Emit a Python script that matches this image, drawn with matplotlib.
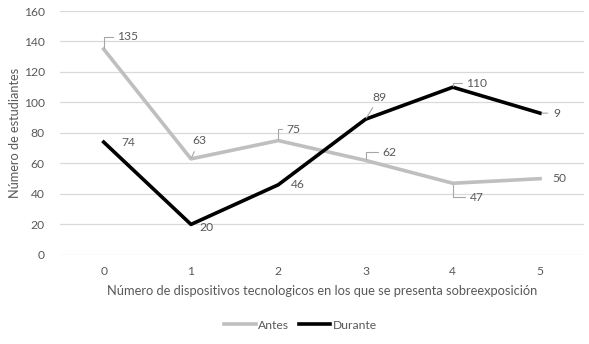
import matplotlib
matplotlib.use("Agg")
import matplotlib.pyplot as plt

# data
dispositivos = [0, 1, 2, 3, 4, 5]
antes = [135, 63, 75, 62, 47, 50]
durante = [74, 20, 46, 89, 110, 93]
antes_labels = ["135", "63", "75", "62", "47", "50"]
durante_labels = ["74", "20", "46", "89", "110", "9"]

GRAY_LINE = "#bfbfbf"
TEXT = "#595959"
GRID = "#d9d9d9"
LEADER = "#a6a6a6"

plt.rcParams["font.family"] = ["Lato", "DejaVu Sans"]

fig = plt.figure(figsize=(5.89, 3.44), dpi=100)
ax = fig.add_axes([0.102, 0.259, 0.889, 0.709])

ax.plot(dispositivos, antes, color=GRAY_LINE, lw=2.6, label="Antes", solid_joinstyle="round")
ax.plot(dispositivos, durante, color="black", lw=2.6, label="Durante", solid_joinstyle="round")

# label offsets in points (dx, dy) and leader style (None, "straight", "elbow")
antes_off = [(17, 9), (6, 13), (11, 8), (17, 6), (17, -10), (14, 0)]
antes_lead = ["elbow", "straight", "elbow", "elbow", "elbow", None]
durante_off = [(18, 0), (11, -2), (14, 0), (10, 16), (17, 3), (12, 0)]
durante_lead = [None, None, None, "straight", "elbow", "straight"]


def put_labels(xs, ys, labels, offs, leads):
    for x, y, lab, (dx, dy), lead in zip(xs, ys, labels, offs, leads):
        arrow = None
        if lead == "straight":
            arrow = dict(arrowstyle="-", color=LEADER, lw=0.8, shrinkA=2, shrinkB=1)
        elif lead == "elbow":
            arrow = dict(arrowstyle="-", color=LEADER, lw=0.8, shrinkA=1, shrinkB=1,
                         connectionstyle="angle,angleA=0,angleB=90,rad=0")
        ax.annotate(lab, (x, y), xytext=(dx, dy), textcoords="offset points",
                    ha="center", va="center", fontsize=8.7, color=TEXT,
                    arrowprops=arrow)


put_labels(dispositivos, antes, antes_labels, antes_off, antes_lead)
put_labels(dispositivos, durante, durante_labels, durante_off, durante_lead)

ax.set_xlim(-0.5, 5.5)
ax.set_ylim(0, 160)
ax.set_yticks(range(0, 161, 20))
ax.set_xticks(dispositivos)
ax.grid(axis="y", color=GRID, lw=0.9)
ax.set_axisbelow(True)
for side in ax.spines.values():
    side.set_visible(False)
ax.tick_params(length=0, colors=TEXT, labelsize=8.7, pad=8)
ax.tick_params(axis="y", pad=11)

ax.set_xlabel("Número de dispositivos tecnologicos en los que se presenta sobreexposición",
              fontsize=9.3, color=TEXT, labelpad=6)
ax.set_ylabel("Número de estudiantes", fontsize=9.2, color=TEXT, labelpad=2)

fig.legend(loc="center", bbox_to_anchor=(0.51, 0.055), ncol=2, frameon=False,
           fontsize=8.7, labelcolor=TEXT, handlelength=2.6, handletextpad=0.2,
           columnspacing=0.8)

fig.savefig("out.png", dpi=100)
